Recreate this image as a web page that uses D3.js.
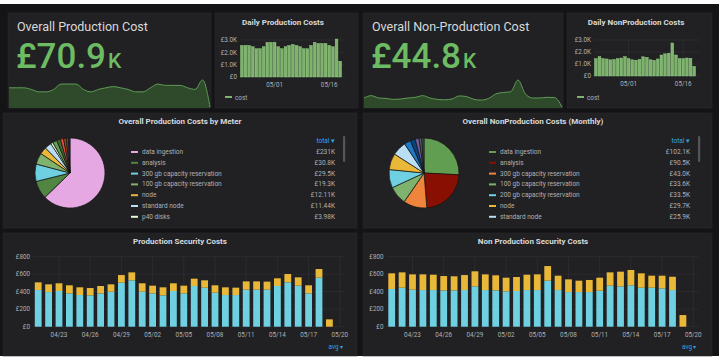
<!DOCTYPE html>
<html lang="en">
<head>
<meta charset="utf-8">
<title>Cost Dashboard</title>
<script src="https://d3js.org/d3.v7.min.js"></script>
<style>
  body{margin:0;background:#fff;}
  svg{display:block;font-family:Roboto, sans-serif;}
</style>
</head>
<body>
<svg width="723" height="361"></svg>
<script>
const md = d3.timeParse("%m/%d");
const fmtMD = d3.timeFormat("%m/%d");

// DATA - daily totals (top row), 04/22 .. 05/19
const dailyDays = d3.timeDay.range(md("04/22"), md("05/20"));
const prodDaily = [2560,2560,2560,2450,2290,2290,2450,2810,2810,2810,2450,2290,2450,2560,
                   2640,2560,2450,2290,2290,2560,2810,2720,2720,2720,2560,2450,3080,1280];
const nonProdDaily = [1450,1620,1450,1420,1350,1380,1450,1500,1620,1450,1350,1320,1380,1600,
                      1550,1350,1300,1420,1750,1850,1900,2750,1750,1450,1450,1500,1480,800];
const dailyTicks = ["05/01", "05/16"];
const dailyYTicks = [0, 1000, 2000, 3000];

// stat panels
const statTitles = ["Overall Production Cost", "Overall Non-Production Cost"];
const statValues = ["£70.9", "£44.8"];
const statUnit = "K";

// pies
const prodMeterNames = ["data ingestion", "analysis", "300 gb capacity reservation",
  "100 gb capacity reservation", "node", "standard node", "p40 disks"];
const prodMeterValues = [231, 30.8, 29.5, 19.3, 12.11, 11.44, 3.98];
const prodMeterLabels = ["£231K", "£30.8K", "£29.5K", "£19.3K", "£12.11K", "£11.44K", "£3.98K"];
// slices whose legend rows sit below the scroll
const prodMoreValues = [7.5, 6.2, 5.4, 4.6, 3.8, 2.5];

const nonProdNames = ["data ingestion", "analysis", "300 gb capacity reservation",
  "100 gb capacity reservation", "200 gb capacity reservation", "node", "standard node"];
const nonProdValues = [102.1, 90.5, 43.0, 33.6, 33.5, 29.7, 25.9];
const nonProdLabels = ["£102.1K", "£90.5K", "£43.0K", "£33.6K", "£33.5K", "£29.7K", "£25.9K"];
const nonProdMoreValues = [12, 9, 7, 5, 4];

// security costs, 04/21 .. 05/19
const secDays = d3.timeDay.range(md("04/21"), md("05/20"));
const prodSecBase = [419,396,408,381,362,358,381,400,503,530,400,381,358,408,381,465,446,389,362,362,
                     423,423,423,465,507,469,381,560,0];
const prodSecTop = [88,88,88,92,88,84,84,84,87,91,96,88,92,88,88,84,84,84,88,84,
                    95,95,92,88,95,95,92,99,84];
const nonProdSecBase = [431,446,423,419,419,415,415,419,461,419,415,404,408,419,419,526,419,396,396,396,
                        411,469,461,473,446,446,438,419,0];
const nonProdSecTop = [179,175,175,179,175,164,161,171,172,179,172,156,160,175,179,167,164,145,130,138,
                       149,152,168,175,164,137,145,152,133];
const secTicks = ["04/23","04/26","04/29","05/02","05/05","05/08","05/11","05/14","05/17","05/20"];
const secYTicks = [0, 200, 400, 600, 800];

// STYLE
const PAGE = "#141416", PANEL = "#212124", TXT = "#d8d9da", AX = "#b0b1b3", GRID = "#323236";
const GREEN = "#6dbb63";
const prodColors = ["#e5a8e2","#508642","#6ed0e0","#7eb26d","#eab839","#badff4","#e0f9d7",
                    "#629e51","#3f6833","#e24d42","#99440a","#584477","#511749"];
const nonProdColors = ["#629e51","#890f02","#ef843c","#7eb26d","#6ed0e0","#eab839","#badff4",
                       "#1f78c1","#0a437c","#705da0","#5a5a5a","#2f575e"];

const svg = d3.select("svg");
svg.append("rect").attr("width", 723).attr("height", 361).attr("fill", "#fff");
svg.append("rect").attr("x", 0).attr("y", 4).attr("width", 719).attr("height", 352).attr("fill", PAGE);

function panel(x, y, w, h){
  return svg.append("rect").attr("x", x).attr("y", y).attr("width", w).attr("height", h)
    .attr("fill", PANEL).attr("stroke", "#2a2a2d").attr("stroke-width", 0.6);
}

function title(x, y, t){
  svg.append("text").attr("x", x).attr("y", y).attr("text-anchor", "middle")
    .attr("fill", TXT).attr("font-size", 8).attr("font-weight", "bold").text(t);
}

// STAT PANELS
function drawStat(px, py, pw, ph, t, value, series){
  panel(px, py, pw, ph);
  const sx = d3.scaleLinear().domain([0, series.length - 1]).range([px + 1, px + pw - 1]);
  const sy = d3.scaleLinear().domain(d3.extent(series)).range([py + ph - 1, py + ph - 28]);
  const area = d3.area().x((d, i) => sx(i)).y0(py + ph).y1(d => sy(d)).curve(d3.curveMonotoneX);
  const line = d3.line().x((d, i) => sx(i)).y(d => sy(d)).curve(d3.curveMonotoneX);
  svg.append("path").datum(series).attr("d", area).attr("fill", "#2e4a2b");
  svg.append("path").datum(series).attr("d", line).attr("fill", "none")
    .attr("stroke", "#5f9c54").attr("stroke-width", 1);
  svg.append("text").attr("x", px + 9).attr("y", py + 18).attr("fill", TXT)
    .attr("font-size", 12.5).text(t);
  const v = svg.append("text").attr("x", px + 8).attr("y", py + 55).attr("fill", GREEN)
    .attr("font-weight", 500);
  v.append("tspan").attr("font-size", 35).text(value);
  v.append("tspan").attr("font-size", 21).attr("dx", 2).text(statUnit);
}

drawStat(8, 13, 203, 95, statTitles[0], statValues[0], prodDaily);
drawStat(363, 13, 200, 95, statTitles[1], statValues[1], nonProdDaily);

// DAILY BAR PANELS
function drawDaily(p, t, tx, series, xr, yr){
  panel(...p);
  title(tx, 24.5, t);
  const x = d3.scaleTime()
    .domain([d3.timeHour.offset(dailyDays[0], -12), d3.timeHour.offset(dailyDays[dailyDays.length - 1], 12)])
    .range(xr);
  const y = d3.scaleLinear().domain([0, 3000]).range(yr);
  const g = svg.append("g");
  g.selectAll(".hg").data(dailyYTicks).join("line")
    .attr("x1", xr[0]).attr("x2", xr[1] + 3).attr("y1", d => y(d)).attr("y2", d => y(d))
    .attr("stroke", GRID).attr("stroke-width", 0.6);
  g.selectAll(".vg").data(dailyTicks).join("line")
    .attr("x1", d => x(md(d))).attr("x2", d => x(md(d))).attr("y1", yr[1]).attr("y2", yr[0])
    .attr("stroke", GRID).attr("stroke-width", 0.6);
  g.selectAll(".yl").data(dailyYTicks).join("text")
    .attr("x", xr[0] - 3).attr("y", d => y(d) + 2.2).attr("text-anchor", "end")
    .attr("fill", AX).attr("font-size", 6.3)
    .text(d => d === 0 ? "£0" : "£" + (d / 1000).toFixed(1) + "K");
  g.selectAll(".xl").data(dailyTicks).join("text")
    .attr("x", d => x(md(d))).attr("y", yr[0] + 10).attr("text-anchor", "middle")
    .attr("fill", AX).attr("font-size", 6.3).text(d => d);
  const bw = (xr[1] - xr[0]) / dailyDays.length * 0.76;
  g.selectAll(".bar").data(series).join("rect")
    .attr("x", (d, i) => x(dailyDays[i]) - bw / 2).attr("width", bw)
    .attr("y", d => y(d)).attr("height", d => y(0) - y(d))
    .attr("fill", "#7eb26d").attr("stroke", "#9ad68a").attr("stroke-width", 0.4);
  g.append("line").attr("x1", p[0] + 10).attr("x2", p[0] + 17).attr("y1", 97).attr("y2", 97)
    .attr("stroke", "#7eb26d").attr("stroke-width", 2);
  g.append("text").attr("x", p[0] + 20).attr("y", 99.5).attr("fill", AX)
    .attr("font-size", 6.3).text("cost");
}

drawDaily([215, 13, 143, 95], "Daily Production Costs", 283, prodDaily, [240, 342], [77, 40]);
drawDaily([567, 13, 145, 95], "Daily NonProduction Costs", 636, nonProdDaily, [594, 696], [76, 40]);

// PIE PANELS
function drawPie(p, t, tx, names, values, labels, more, colors, cx, legX, valX){
  panel(...p);
  title(tx, 124, t);
  const all = values.concat(more);
  const color = d3.scaleOrdinal().domain(d3.range(all.length)).range(colors);
  const arcs = d3.pie().sort(null)(all);
  const arc = d3.arc().innerRadius(0).outerRadius(35);
  svg.append("g").attr("transform", `translate(${cx},173)`)
    .selectAll("path").data(arcs).join("path")
    .attr("d", arc).attr("fill", (d, i) => color(i))
    .attr("stroke", "#141414").attr("stroke-width", 0.7);
  const lg = svg.append("g");
  const rowY = i => 154 + i * 10.8;
  lg.selectAll(".m").data(names).join("line")
    .attr("x1", legX).attr("x2", legX + 7).attr("y1", (d, i) => rowY(i) - 2).attr("y2", (d, i) => rowY(i) - 2)
    .attr("stroke", (d, i) => color(i)).attr("stroke-width", 2);
  lg.selectAll(".n").data(names).join("text")
    .attr("x", legX + 11).attr("y", (d, i) => rowY(i)).attr("fill", AX)
    .attr("font-size", 6.5).text(d => d);
  lg.selectAll(".v").data(labels).join("text")
    .attr("x", valX).attr("y", (d, i) => rowY(i)).attr("text-anchor", "end").attr("fill", AX)
    .attr("font-size", 6.5).text(d => d);
  lg.append("text").attr("x", valX).attr("y", 142.5).attr("text-anchor", "end")
    .attr("fill", "#33a2e5").attr("font-size", 6.5).text("total ▾");
  lg.append("rect").attr("x", valX + 8).attr("y", 136).attr("width", 2.2).attr("height", 26)
    .attr("rx", 1).attr("fill", "#55565a");
}

drawPie([3, 113, 354, 115], "Overall Production Costs by Meter", 180,
  prodMeterNames, prodMeterValues, prodMeterLabels, prodMoreValues, prodColors, 70, 131, 335);
drawPie([363, 113, 349, 115], "Overall NonProduction Costs (Monthly)", 533,
  nonProdNames, nonProdValues, nonProdLabels, nonProdMoreValues, nonProdColors, 424, 489, 690);

// SECURITY BAR PANELS
function drawSecurity(p, t, tx, base, top, xr){
  panel(...p);
  title(tx, 244, t);
  const x = d3.scaleTime()
    .domain([d3.timeHour.offset(secDays[0], -12), d3.timeHour.offset(secDays[secDays.length - 1], 36)])
    .range(xr);
  const y = d3.scaleLinear().domain([0, 800]).range([326.7, 256.7]);
  const g = svg.append("g");
  g.selectAll(".hg").data(secYTicks).join("line")
    .attr("x1", xr[0]).attr("x2", xr[1]).attr("y1", d => y(d)).attr("y2", d => y(d))
    .attr("stroke", GRID).attr("stroke-width", 0.6);
  g.selectAll(".vg").data(secTicks).join("line")
    .attr("x1", d => x(md(d))).attr("x2", d => x(md(d))).attr("y1", y(800)).attr("y2", y(0))
    .attr("stroke", GRID).attr("stroke-width", 0.6);
  g.selectAll(".yl").data(secYTicks).join("text")
    .attr("x", xr[0] - 3).attr("y", d => y(d) + 2.2).attr("text-anchor", "end")
    .attr("fill", AX).attr("font-size", 6.3).text(d => "£" + d);
  g.selectAll(".xl").data(secTicks).join("text")
    .attr("x", d => x(md(d))).attr("y", 337).attr("text-anchor", "middle")
    .attr("fill", AX).attr("font-size", 6.3).text(d => d);
  const rows = secDays.map((d, i) => ({date: d, base: base[i], top: top[i]}));
  const series = d3.stack().keys(["base", "top"])(rows);
  const fills = ["#6ed0e0", "#eab839"];
  const bw = 6.8;
  g.selectAll(".s").data(series).join("g").attr("fill", (d, i) => fills[i])
    .selectAll("rect").data(d => d.filter(s => s[1] > s[0])).join("rect")
    .attr("x", d => x(d.data.date) - bw / 2).attr("width", bw)
    .attr("y", d => y(d[1])).attr("height", d => y(d[0]) - y(d[1]));
  g.append("text").attr("x", xr[1] - 2).attr("y", 348.5).attr("text-anchor", "end")
    .attr("fill", "#33a2e5").attr("font-size", 6.3).text("avg ▾");
}

drawSecurity([3, 233, 354, 123], "Production Security Costs", 180, prodSecBase, prodSecTop, [33, 345]);
drawSecurity([363, 233, 349, 123], "Non Production Security Costs", 533, nonProdSecBase, nonProdSecTop, [386.5, 698.5]);
</script>
</body>
</html>
